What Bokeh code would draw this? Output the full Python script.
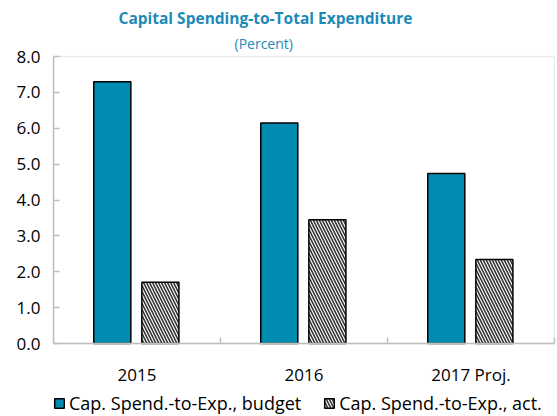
from bokeh.plotting import figure
from bokeh.models import (Range1d, FixedTicker, NumeralTickFormatter, Legend,
                          LegendItem, Title, ColumnDataSource, BoxAnnotation)
from bokeh.embed import file_html
from bokeh.resources import INLINE
import numpy as np

categories = ["2015", "2016", "2017 Proj."]
budget = [7.30, 6.15, 4.74]
actual = [1.71, 3.45, 2.34]
y_ticks = [0, 1, 2, 3, 4, 5, 6, 7, 8]

FONT = "Open Sans"
TEAL = "#008BB0"
TITLE_C = "#1C8AB8"
GRAY = "#BFBFBF"

n = len(categories)
y_top = y_ticks[-1]

idx = np.arange(n)
src = ColumnDataSource(dict(
    xb=idx + 0.5 - 0.148,
    xa=idx + 0.5 + 0.140,
    budget=budget,
    actual=actual,
))

# frame extends below the value axis so the legend can sit inside it
p = figure(frame_width=502, frame_height=361, output_backend="svg",
           toolbar_location=None,
           x_range=Range1d(0, n + 0.006), y_range=Range1d(-2.035, y_top + 0.03),
           min_border_left=53, min_border_right=2, min_border_top=55,
           min_border_bottom=0, title=None)

p.outline_line_color = None
p.xgrid.visible = False
p.ygrid.visible = False
p.background_fill_color = "white"
p.border_fill_color = "white"

rb = p.vbar(x="xb", top="budget", width=0.222, source=src, fill_color=TEAL,
            line_color="black", line_width=1.5)
ra = p.vbar(x="xa", top="actual", width=0.222, source=src, fill_color="white",
            line_color="black", line_width=1.5, hatch_pattern="\\",
            hatch_color="#333333", hatch_scale=6, hatch_weight=1.6)

# plot-area border
p.add_layout(BoxAnnotation(left=0, right=n, bottom=0, top=y_top,
                           fill_alpha=0, line_color=GRAY, line_width=1.5))

# y axis
ya = p.yaxis[0]
ya.bounds = (0, y_top)
ya.ticker = FixedTicker(ticks=y_ticks, minor_ticks=[])
ya.formatter = NumeralTickFormatter(format="0.0")
ya.major_tick_in = 6
ya.major_tick_out = 0
ya.major_tick_line_color = GRAY
ya.major_tick_line_width = 1.5
ya.axis_line_color = GRAY
ya.axis_line_width = 1.5
ya.major_label_text_font = FONT
ya.major_label_text_font_size = "17px"
ya.major_label_text_color = "black"
ya.major_label_standoff = 13

# x axis
xa = p.xaxis[0]
xa.fixed_location = 0
xa.bounds = (0, n)
centers = [float(i) + 0.5 for i in idx]
xa.ticker = FixedTicker(ticks=centers,
                        minor_ticks=[float(i) for i in range(n + 1)])
xa.major_label_overrides = {c: lab for c, lab in zip(centers, categories)}
xa.major_tick_in = 0
xa.major_tick_out = 0
xa.minor_tick_in = 6
xa.minor_tick_out = 0
xa.minor_tick_line_color = GRAY
xa.minor_tick_line_width = 1.5
xa.axis_line_color = GRAY
xa.axis_line_width = 1.5
xa.major_label_text_font = FONT
xa.major_label_text_font_size = "17px"
xa.major_label_text_color = "black"
xa.major_label_standoff = 19

# titles (subtitle first: closest to the plot)
p.add_layout(Title(text="(Percent)", align="left", offset=181,
                   text_font=FONT, text_font_size="14px", text_font_style="normal",
                   text_color=TITLE_C, standoff=6), "above")
p.add_layout(Title(text="Capital Spending-to-Total Expenditure", align="left",
                   offset=65, text_font=FONT, text_font_size="15.5px",
                   text_font_style="bold", text_color=TITLE_C, standoff=0), "above")

legend = Legend(items=[LegendItem(label="Cap. Spend.-to-Exp., budget", renderers=[rb]),
                       LegendItem(label="Cap. Spend.-to-Exp., act.", renderers=[ra])],
                location=(0, 1), orientation="horizontal",
                glyph_width=12, glyph_height=12, label_standoff=4, spacing=22,
                padding=0, margin=0, border_line_color=None,
                background_fill_alpha=0,
                label_text_font=FONT, label_text_font_size="18px",
                label_text_color="black", label_height=16)
p.add_layout(legend, "center")

open("out.html", "w").write(file_html(p, INLINE))
